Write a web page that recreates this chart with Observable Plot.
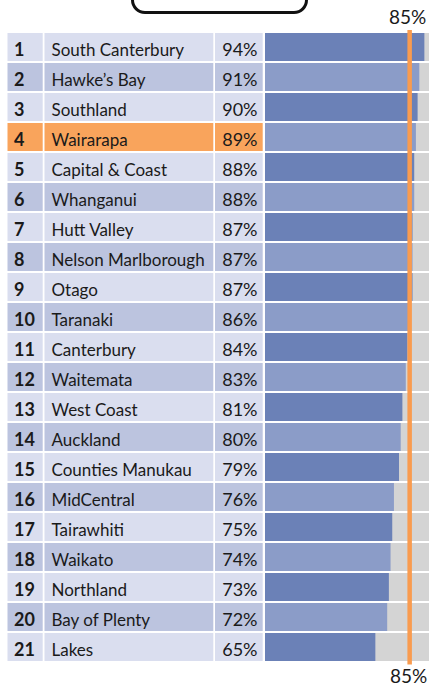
<!DOCTYPE html>
<html><head><meta charset="utf-8">
<script src="https://cdn.jsdelivr.net/npm/d3@7"></script>
<script src="https://cdn.jsdelivr.net/npm/@observablehq/plot@0.6"></script>
<style>
body{margin:0;background:#fff;font-family:Lato,sans-serif;}
#wrap{position:relative;width:429px;height:687px;overflow:hidden;}
#wrap svg{position:absolute;left:0;top:0;}
#box{position:absolute;left:131px;top:-40px;width:177px;height:54px;border:3px solid #111;border-radius:14px;box-sizing:border-box;z-index:2;}
</style></head><body><div id="wrap"><div id="box"></div></div>
<script>
const regions = ["South Canterbury","Hawke’s Bay","Southland","Wairarapa","Capital & Coast","Whanganui","Hutt Valley","Nelson Marlborough","Otago","Taranaki","Canterbury","Waitemata","West Coast","Auckland","Counties Manukau","MidCentral","Tairawhiti","Waikato","Northland","Bay of Plenty","Lakes"];
const rates = [94,91,90,89,88,88,87,87,87,86,84,83,81,80,79,76,75,74,73,72,65];
const target = 85;
const fullScale = 100;
const highlight = "Wairarapa";

const rows = regions.map((name, i) => ({rank: i + 1, name, value: rates[i], label: rates[i] + "%"}));
const W = 429, H = 687;
const cellFill = d => d.name === highlight ? "#f9a45c" : (d.rank % 2 ? "#dadeef" : "#bcc4df");
const barFill = d => d.rank % 2 ? "#6b81b7" : "#8b9cc8";
const col = (l, r) => ({insetLeft: l, insetRight: W - r});
const ink = "#1a1a1a";

const chart = Plot.plot({
  width: W, height: H,
  marginTop: 30, marginBottom: 22.5, marginLeft: 0, marginRight: 0,
  x: {domain: [0, fullScale], range: [265.5, 265.5 + 169], axis: null},
  y: {domain: regions, paddingInner: 0.066, paddingOuter: 0, axis: null},
  style: "font-family:Lato;background:#fff;color:" + ink,
  marks: [
    Plot.cell(rows, {y: "name", fill: cellFill, ...col(7.5, 42.7)}),
    Plot.cell(rows, {y: "name", fill: cellFill, ...col(44.5, 213.3)}),
    Plot.cell(rows, {y: "name", fill: cellFill, ...col(215, 262.7)}),
    Plot.barX(rows, {y: "name", x: () => fullScale, fill: "#d4d4d4", insetLeft: -0.5}),
    Plot.barX(rows, {y: "name", x: "value", fill: barFill, insetLeft: -0.5}),
    Plot.ruleX([target], {stroke: "#f99b4f", strokeWidth: 4.5}),
    Plot.text(rows, {y: "name", text: d => String(d.rank), frameAnchor: "left", dx: 13.5, textAnchor: "start", fontWeight: "bold", fontSize: 18, fill: ink, dy: 3}),
    Plot.text(rows, {y: "name", text: "name", frameAnchor: "left", dx: 51, textAnchor: "start", fontSize: 17, fill: ink, dy: 3.5}),
    Plot.text(rows, {y: "name", text: "label", frameAnchor: "left", dx: 257, textAnchor: "end", fontSize: 18, fill: ink, dy: 3}),
    Plot.text([target], {x: d => d, text: d => d + "%", frameAnchor: "top", lineAnchor: "bottom", dy: -7, dx: -2, fontSize: 19, fill: ink}),
    Plot.text([target], {x: d => d, text: d => d + "%", frameAnchor: "bottom", lineAnchor: "top", dy: 4, dx: -1, fontSize: 19, fill: ink})
  ]
});
document.getElementById("wrap").appendChild(chart);
</script>
</body></html>
